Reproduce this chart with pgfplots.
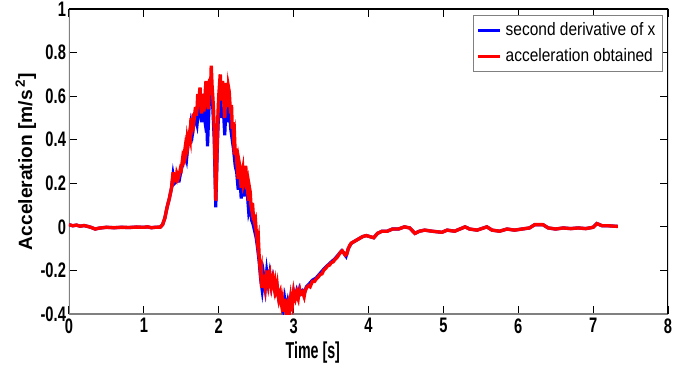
\documentclass[border=0pt]{standalone}
\usepackage{fontspec}
\setmainfont{Liberation Sans}
\newfontfamily\tickfont[FakeStretch=0.7]{Liberation Sans}
\newfontfamily\xlabfont[FakeStretch=0.62]{Liberation Sans}
\newfontfamily\legfont[FakeStretch=0.86]{Liberation Sans}
\usepackage{pgfplots}
\usepackage{pgfplotstable}
\pgfplotsset{compat=1.18}
\definecolor{mblue}{RGB}{0,0,255}
\definecolor{mred}{RGB}{255,0,0}
\definecolor{axgray}{RGB}{128,128,128}

\pgfplotstableread{
x y
0 0.010
0.05 0.005
0.10 0.008
0.15 0.003
0.20 0.006
0.25 0.002
0.30 -0.003
0.35 -0.010
0.40 -0.006
0.45 -0.004
0.50 -0.002
0.60 -0.004
0.70 -0.002
0.80 -0.003
0.90 -0.001
1.00 -0.002
1.05 0.000
1.10 -0.004
1.15 -0.002
1.22 -0.001
1.25 0.010
1.28 0.040
1.31 0.090
1.34 0.130
1.37 0.180
1.39 0.250
1.40 0.215
1.41 0.225
1.43 0.215
1.44 0.245
1.46 0.225
1.47 0.235
1.49 0.270
1.50 0.265
1.52 0.320
1.53 0.310
1.55 0.360
1.56 0.330
1.57 0.345
1.58 0.400
1.59 0.380
1.61 0.430
1.62 0.410
1.63 0.500
1.64 0.450
1.65 0.470
1.66 0.520
1.67 0.490
1.69 0.550
1.70 0.510
1.71 0.540
1.72 0.610
1.73 0.560
1.75 0.640
1.76 0.560
1.77 0.520
1.78 0.610
1.79 0.580
1.80 0.530
1.81 0.560
1.82 0.620
1.83 0.670
1.84 0.560
1.85 0.590
1.86 0.540
1.87 0.630
1.88 0.680
1.89 0.620
1.90 0.740
1.91 0.650
1.92 0.600
1.93 0.540
1.94 0.450
1.95 0.300
1.96 0.120
1.97 0.250
1.98 0.400
1.99 0.520
2.00 0.600
2.01 0.650
2.02 0.700
2.03 0.620
2.04 0.580
2.05 0.670
2.06 0.630
2.07 0.560
2.08 0.500
2.09 0.600
2.10 0.660
2.11 0.590
2.12 0.550
2.13 0.640
2.14 0.620
2.15 0.560
2.16 0.520
2.17 0.560
2.18 0.450
2.19 0.480
2.20 0.400
2.21 0.420
2.22 0.330
2.23 0.360
2.24 0.300
2.25 0.260
2.26 0.220
2.27 0.300
2.28 0.280
2.29 0.220
2.30 0.180
2.31 0.240
2.32 0.260
2.33 0.190
2.34 0.200
2.35 0.250
2.36 0.280
2.37 0.210
2.38 0.220
2.39 0.150
2.40 0.120
2.41 0.180
2.42 0.160
2.43 0.100
2.44 0.080
2.45 0.110
2.46 0.060
2.47 0.040
2.48 0.020
2.49 0.030
2.50 -0.020
2.52 -0.080
2.53 -0.060
2.54 -0.140
2.56 -0.220
2.57 -0.200
2.58 -0.280
2.59 -0.250
2.60 -0.220
2.61 -0.260
2.62 -0.280
2.63 -0.230
2.64 -0.200
2.65 -0.240
2.66 -0.260
2.67 -0.220
2.68 -0.210
2.69 -0.250
2.70 -0.270
2.71 -0.240
2.72 -0.230
2.73 -0.260
2.74 -0.280
2.75 -0.260
2.76 -0.300
2.77 -0.290
2.78 -0.270
2.79 -0.310
2.80 -0.330
2.81 -0.310
2.82 -0.300
2.83 -0.340
2.84 -0.360
2.85 -0.340
2.86 -0.390
2.87 -0.360
2.88 -0.330
2.89 -0.370
2.90 -0.390
2.91 -0.360
2.92 -0.350
2.93 -0.380
2.94 -0.400
2.95 -0.360
2.96 -0.330
2.97 -0.360
2.98 -0.370
2.99 -0.330
3.00 -0.300
3.01 -0.320
3.02 -0.330
3.03 -0.310
3.04 -0.300
3.05 -0.320
3.06 -0.330
3.07 -0.300
3.08 -0.290
3.09 -0.310
3.10 -0.310
3.12 -0.300
3.14 -0.320
3.15 -0.300
3.17 -0.280
3.20 -0.270
3.22 -0.275
3.25 -0.250
3.28 -0.250
3.30 -0.240
3.33 -0.230
3.35 -0.220
3.38 -0.215
3.40 -0.200
3.43 -0.190
3.45 -0.180
3.48 -0.175
3.50 -0.165
3.53 -0.160
3.55 -0.150
3.58 -0.140
3.60 -0.130
3.63 -0.115
3.65 -0.110
3.67 -0.120
3.69 -0.130
3.71 -0.125
3.73 -0.100
3.75 -0.085
3.77 -0.075
3.82 -0.065
3.87 -0.055
3.92 -0.045
3.97 -0.040
4.02 -0.045
4.07 -0.050
4.12 -0.030
4.18 -0.020
4.25 -0.020
4.32 -0.010
4.40 -0.010
4.48 0.000
4.55 -0.005
4.62 -0.030
4.68 -0.020
4.75 -0.015
4.85 -0.020
4.98 -0.025
5.05 -0.015
5.15 -0.020
5.29 0.000
5.35 -0.010
5.45 -0.015
5.58 0.000
5.65 -0.015
5.75 -0.020
5.85 -0.010
5.95 -0.015
6.05 -0.010
6.15 -0.005
6.22 0.010
6.33 0.010
6.40 -0.005
6.50 -0.010
6.60 -0.005
6.70 -0.008
6.80 -0.005
6.90 -0.008
7.00 -0.002
7.05 0.015
7.12 0.005
7.20 0.005
7.33 0.002
}\redtab

\pgfplotstableread{
x y
0 0.010
0.05 0.005
0.10 0.008
0.15 0.003
0.20 0.006
0.25 0.002
0.30 -0.003
0.35 -0.010
0.40 -0.006
0.45 -0.004
0.50 -0.002
0.60 -0.004
0.70 -0.002
0.80 -0.003
0.90 -0.001
1.00 -0.002
1.05 0.000
1.10 -0.004
1.15 -0.002
1.22 -0.001
1.25 0.010
1.28 0.040
1.31 0.090
1.34 0.130
1.37 0.180
1.39 0.240
1.41 0.200
1.44 0.210
1.47 0.210
1.50 0.265
1.53 0.300
1.55 0.340
1.57 0.310
1.59 0.380
1.61 0.400
1.63 0.470
1.65 0.430
1.67 0.480
1.69 0.500
1.71 0.470
1.73 0.540
1.75 0.570
1.77 0.480
1.79 0.550
1.81 0.500
1.83 0.590
1.85 0.370
1.87 0.550
1.89 0.620
1.90 0.660
1.92 0.550
1.94 0.400
1.96 0.090
1.98 0.360
2.00 0.550
2.02 0.620
2.04 0.500
2.06 0.550
2.08 0.420
2.10 0.580
2.12 0.480
2.14 0.550
2.16 0.450
2.18 0.400
2.20 0.350
2.22 0.280
2.24 0.250
2.26 0.170
2.28 0.240
2.30 0.130
2.32 0.200
2.34 0.140
2.36 0.220
2.38 0.160
2.40 0.070
2.42 0.100
2.44 0.030
2.46 0.010
2.48 -0.020
2.50 -0.050
2.52 -0.100
2.54 -0.160
2.56 -0.240
2.58 -0.290
2.60 -0.225
2.62 -0.280
2.64 -0.205
2.66 -0.260
2.68 -0.215
2.70 -0.270
2.72 -0.235
2.74 -0.280
2.76 -0.300
2.78 -0.275
2.80 -0.325
2.82 -0.305
2.84 -0.350
2.86 -0.380
2.88 -0.330
2.90 -0.380
2.92 -0.345
2.94 -0.390
2.96 -0.330
2.98 -0.360
3.00 -0.300
3.02 -0.325
3.04 -0.295
3.06 -0.320
3.08 -0.285
3.10 -0.305
3.12 -0.295
3.14 -0.310
3.17 -0.275
3.20 -0.265
3.25 -0.245
3.30 -0.235
3.35 -0.215
3.40 -0.195
3.45 -0.178
3.50 -0.162
3.55 -0.147
3.60 -0.127
3.64 -0.110
3.67 -0.120
3.70 -0.135
3.73 -0.100
3.77 -0.075
3.82 -0.065
3.87 -0.055
3.92 -0.045
3.97 -0.040
4.02 -0.045
4.07 -0.050
4.12 -0.030
4.18 -0.020
4.25 -0.020
4.32 -0.010
4.40 -0.010
4.48 0.000
4.55 -0.005
4.62 -0.030
4.68 -0.020
4.75 -0.015
4.85 -0.020
4.98 -0.025
5.05 -0.015
5.15 -0.020
5.29 0.000
5.35 -0.010
5.45 -0.015
5.58 0.000
5.65 -0.015
5.75 -0.020
5.85 -0.010
5.95 -0.015
6.05 -0.010
6.15 -0.005
6.22 0.010
6.33 0.010
6.40 -0.005
6.50 -0.010
6.60 -0.005
6.70 -0.008
6.80 -0.005
6.90 -0.008
7.00 -0.002
7.05 0.015
7.12 0.005
7.20 0.005
7.33 0.002
}\bluetab

\begin{document}
\begin{tikzpicture}
\begin{axis}[
  scale only axis,
  width=299.5pt, height=152.5pt,
  xmin=0, xmax=8, ymin=-0.4, ymax=1,
  xtick={0,1,2,3,4,5,6,7,8},
  xticklabels={0,1,2,3,4,5,6,7,8},
  ytick={-0.4,-0.2,0,0.2,0.4,0.6,0.8,1},
  yticklabels={-0.4,-0.2,0,0.2,0.4,0.6,0.8,1},
  tick align=inside,
  major tick length=4pt,
  tick style={black, line width=0.5pt},
  axis line style={draw=none},
  ticklabel style={font=\tickfont\bfseries\fontsize{10.5}{11}\selectfont},
  xticklabel style={yshift=-1pt, inner sep=1pt},
  yticklabel style={xshift=2pt},
  xlabel={Time [s]},
  ylabel={Acceleration [m/s\textsuperscript{\,2}]},
  every axis x label/.style={at={(axis description cs:0.407,-0.126)}, anchor=center, inner sep=0.5pt, font=\xlabfont\bfseries\fontsize{11.5}{13}\selectfont},
  every axis y label/.style={at={(axis description cs:-0.072,0.5)}, anchor=center, rotate=90, font=\bfseries\fontsize{9.6}{11}\selectfont},
  legend style={at={(axis description cs:0.9917,0.980)}, anchor=north east, draw=axgray, line width=0.6pt, font=\legfont\fontsize{9}{11}\selectfont, inner sep=1.5pt, row sep=1pt, cells={anchor=west}},
  legend image code/.code={\draw[#1, line width=1.7pt] (0pt,0pt) -- (11pt,0pt);},
  clip=true,
]
\draw[axgray, line width=0.9pt] (rel axis cs:0,1) -- (rel axis cs:0,0) -- (rel axis cs:1,0);
\draw[black, line width=0.6pt] (rel axis cs:0,1) -- (rel axis cs:1,1) -- (rel axis cs:1,0);
\addplot[mblue, line width=1.6pt] table[x=x,y=y] {\bluetab};
\addlegendentry{second derivative of x}
\addplot[mred, line width=1.7pt] table[x=x,y=y] {\redtab};
\addlegendentry{acceleration obtained}
\end{axis}
\pgfresetboundingbox
\path (current axis.south west) ++(-34.5pt,-27pt) coordinate (bbA);
\path (current axis.north east) ++(12.5pt,4.5pt) coordinate (bbB);
\path[use as bounding box] (bbA) rectangle (bbB);
\end{tikzpicture}
\end{document}
